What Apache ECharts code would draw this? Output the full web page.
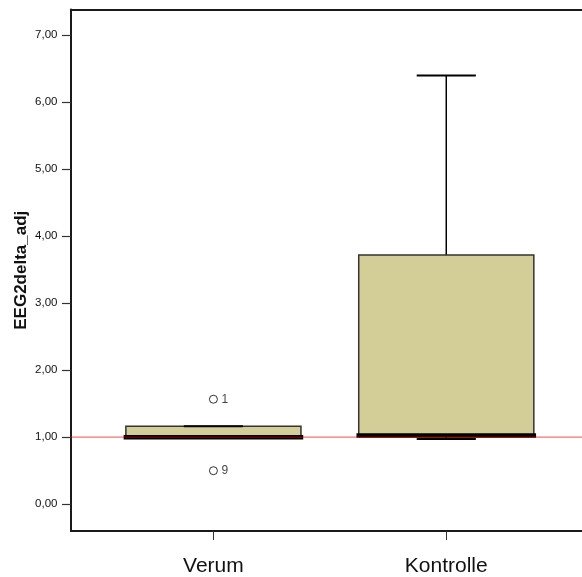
<!DOCTYPE html>
<html>
<head>
<meta charset="utf-8">
<script src="https://cdn.jsdelivr.net/npm/echarts@6/dist/echarts.min.js"></script>
<style>
  html, body { margin: 0; padding: 0; background: #fff; }
  #chart { width: 582px; height: 577px; }
</style>
</head>
<body>
<div id="chart"></div>
<script>
// Group names on the x axis
const categories = ['Verum', 'Kontrolle'];

// Box plot statistics per group
const whiskerLow  = [0.99, 0.975];
const quartile1   = [0.995, 1.01];
const medians     = [1.00, 1.027];
const quartile3   = [1.164, 3.72];
const whiskerHigh = [1.164, 6.40];

// Outlying cases (group index, value, case number)
const outlierGroup = [0, 0];
const outlierValue = [1.567, 0.50];
const outlierCase  = ['1', '9'];

// Reference value drawn as a horizontal line
const referenceValue = 1.0;

// Y axis tick values
const yTicks = [0, 1, 2, 3, 4, 5, 6, 7];

const FONT = '"Liberation Sans", Arial, sans-serif';
const Y_MIN = -0.4, Y_MAX = 7.385;
const FRAME = { color: '#1a1a1a', width: 2 };

const boxData = categories.map((c, i) =>
  [i, whiskerLow[i], quartile1[i], medians[i], quartile3[i], whiskerHigh[i]]);
const outlierData = outlierValue.map((v, i) => [outlierGroup[i], v]);

const chart = echarts.init(document.getElementById('chart'), null, { renderer: 'canvas' });

chart.setOption({
  animation: false,
  backgroundColor: '#fff',
  grid: [
    // frame grid: spans the full plotting frame and carries the value axis
    { left: 71, top: 9.5, right: 0, bottom: 46, outerBoundsMode: 'none' },
    // group grid: positions the two boxes
    { left: 97, top: 9.5, right: 19.3, bottom: 46, outerBoundsMode: 'none' }
  ],
  xAxis: [
    // bottom frame line
    { gridIndex: 0, type: 'value', min: 0, max: 1, position: 'bottom',
      axisLine: { show: true, onZero: false, lineStyle: FRAME },
      axisTick: { show: false }, axisLabel: { show: false }, splitLine: { show: false } },
    // top frame line
    { gridIndex: 0, type: 'value', min: 0, max: 1, position: 'top',
      axisLine: { show: true, onZero: false, lineStyle: FRAME },
      axisTick: { show: false }, axisLabel: { show: false }, splitLine: { show: false } },
    { gridIndex: 1, type: 'category', data: categories, boundaryGap: true,
      axisLine: { show: false, onZero: false },
      axisTick: { show: true, alignWithLabel: true, length: 9,
        lineStyle: { color: '#333', width: 1 } },
      axisLabel: { fontFamily: FONT, fontSize: 21, color: '#111', margin: 25 },
      splitLine: { show: false } }
  ],
  yAxis: [
    { gridIndex: 0, type: 'value', min: Y_MIN, max: Y_MAX,
      name: 'EEG2delta_adj', nameLocation: 'middle', nameGap: 41,
      nameMoveOverlap: false,
      nameTextStyle: { fontFamily: FONT, fontSize: 17, fontWeight: 'bold', color: '#111' },
      axisLine: { show: true, onZero: false, lineStyle: FRAME },
      axisTick: { show: true, length: 9, customValues: yTicks,
        lineStyle: { color: '#333', width: 1.2 } },
      axisLabel: { show: true, customValues: yTicks, margin: 13.5,
        fontFamily: FONT, fontSize: 11.5, color: '#111',
        formatter: v => v.toFixed(2).replace('.', ',') },
      splitLine: { show: false } },
    { gridIndex: 1, type: 'value', min: Y_MIN, max: Y_MAX, show: false }
  ],
  series: [
    {
      type: 'custom',
      xAxisIndex: 2, yAxisIndex: 1,
      z: 2,
      data: boxData,
      renderItem(params, api) {
        const idx = api.value(0);
        const lo = api.coord([idx, api.value(1)]);
        const q1 = api.coord([idx, api.value(2)]);
        const md = api.coord([idx, api.value(3)]);
        const q3 = api.coord([idx, api.value(4)]);
        const hi = api.coord([idx, api.value(5)]);
        const band = api.size([1, 0])[0];
        const cx = lo[0];
        const boxW = band * 0.752;
        const capW = band * 0.254;
        const stroke = { stroke: '#000', lineWidth: 1.5 };
        return {
          type: 'group',
          children: [
            { type: 'line', shape: { x1: cx, y1: q3[1], x2: cx, y2: hi[1] }, style: stroke },
            { type: 'line', shape: { x1: cx, y1: q1[1], x2: cx, y2: lo[1] }, style: stroke },
            { type: 'line', shape: { x1: cx - capW / 2, y1: lo[1], x2: cx + capW / 2, y2: lo[1] },
              style: { stroke: '#000', lineWidth: 2 } },
            { type: 'rect',
              shape: { x: cx - boxW / 2, y: q3[1], width: boxW, height: q1[1] - q3[1] },
              style: { fill: '#d3ce97', stroke: '#333', lineWidth: 1.5 } },
            { type: 'line', shape: { x1: cx - capW / 2, y1: hi[1], x2: cx + capW / 2, y2: hi[1] },
              style: { stroke: '#000', lineWidth: 2 } },
            { type: 'line', shape: { x1: cx - boxW / 2, y1: md[1], x2: cx + boxW / 2, y2: md[1] },
              style: { stroke: '#000', lineWidth: 4.5, lineCap: 'square' } }
          ]
        };
      }
    },
    {
      type: 'scatter',
      xAxisIndex: 2, yAxisIndex: 1,
      z: 3,
      data: outlierData,
      symbol: 'circle',
      symbolSize: 8,
      itemStyle: { color: '#fff', borderColor: '#000', borderWidth: 1 },
      label: {
        show: true, position: 'right', distance: 3.5,
        fontFamily: FONT, fontSize: 12, color: '#111',
        formatter: p => outlierCase[p.dataIndex]
      }
    },
    {
      // horizontal reference line across the full frame
      type: 'line',
      xAxisIndex: 0, yAxisIndex: 0,
      z: 5,
      symbol: 'none',
      data: [[0, referenceValue], [1, referenceValue]],
      lineStyle: { color: 'rgba(235,0,0,0.55)', width: 1.2 }
    }
  ]
});
</script>
</body>
</html>
